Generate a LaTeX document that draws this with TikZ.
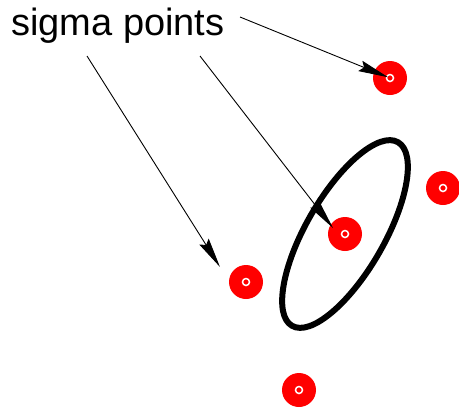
\documentclass[tikz,border=0pt]{standalone}
\usepackage{fontspec}
\setmainfont{Liberation Sans}
\usetikzlibrary{arrows.meta}
\begin{document}
\begin{tikzpicture}[x=1pt,y=-1pt,
  sp/.style={circle, fill=red, minimum size=34pt, inner sep=0pt,
    path picture={\draw[white, line width=1.5pt] (path picture bounding box.center) circle (3.5pt);}},
  arr/.style={-{Stealth[length=30pt,width=11pt,inset=4pt]}, line width=0.9pt},
  lbl/.style={font=\fontsize{38}{40}\selectfont, inner sep=0pt, anchor=base west}]
\useasboundingbox (0,0) rectangle (459,408);
\draw[line width=6pt, rotate around={60:(345,234)}] (345,234) ellipse [x radius=106, y radius=39];
\node[sp] (p1) at (390,78) {};
\node[sp] (p2) at (443,188) {};
\node[sp] (p3) at (345,234) {};
\node[sp] (p4) at (246,282) {};
\node[sp] (p5) at (299,390) {};
\node[lbl] (t) at (11,35) {sigma points};
\coordinate (s1) at (240,17);
\coordinate (s2) at (87,56);
\coordinate (s3) at (200,56);
\coordinate (e2) at (220,267);
\coordinate (e3) at (333,228);
\draw[arr, shorten >=2pt] (s1) -- (p1.center);
\draw[arr] (s2) -- (e2);
\draw[arr] (s3) -- (e3);
\end{tikzpicture}
\end{document}
